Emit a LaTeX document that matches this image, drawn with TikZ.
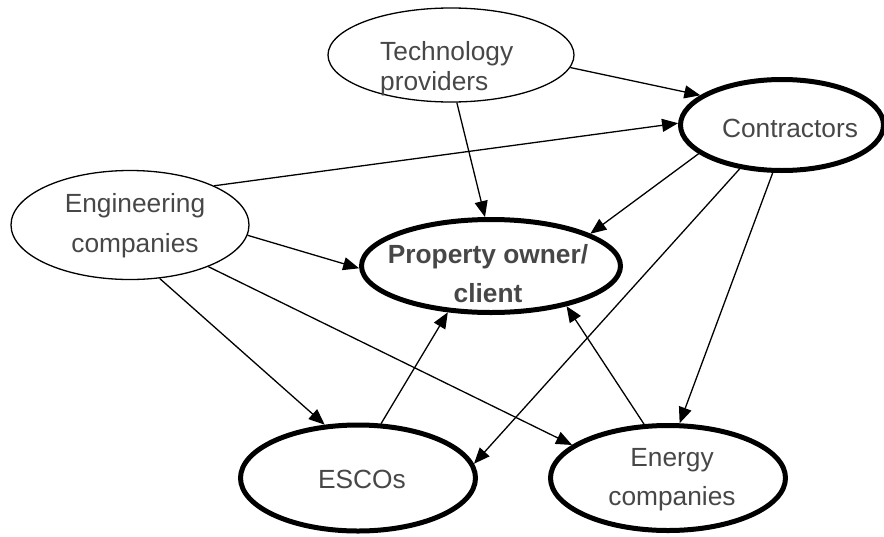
\documentclass[tikz,border=0pt]{standalone}
\usepackage{fontspec}
\setmainfont{Liberation Sans}
\usetikzlibrary{arrows.meta,shapes.geometric}
\begin{document}
\begin{tikzpicture}[x=1pt,y=-1pt,
  party/.style={draw, ellipse, inner sep=0pt, line width=1.3pt},
  keyparty/.style={party, line width=5pt},
  lbl/.style={text=black!72, font=\fontsize{26.3}{30}\selectfont, inner sep=0pt},
  boldlbl/.style={lbl, font=\fontsize{26.3}{30}\selectfont\bfseries},
  flow/.style={line width=1.3pt, -{Triangle[length=16pt,width=13pt]}}]
\useasboundingbox (0,0) rectangle (884,536);

% actors
\node[party,    minimum width=246, minimum height=94]  (tech)   at (451,55)  {};
\node[keyparty, minimum width=203, minimum height=91]  (con)    at (782,125) {};
\node[party,    minimum width=238, minimum height=109] (eng)    at (130,225) {};
\node[keyparty, minimum width=259, minimum height=93]  (prop)   at (491,266) {};
\node[keyparty, minimum width=235, minimum height=106] (escos)  at (358,478) {};
\node[keyparty, minimum width=235, minimum height=105] (energy) at (668,478) {};

% labels
\node[lbl, anchor=base west] (techA) at (380,60) {Technology};
\node[lbl, anchor=base west] (techB) at (380,90) {providers};
\node[lbl, anchor=base] (conA) at (790,137) {Contractors};
\node[lbl, anchor=base] (engA) at (135,212) {Engineering};
\node[lbl, anchor=base] (engB) at (135,252) {companies};
\node[boldlbl, anchor=base] (propA) at (488,263) {Property owner/};
\node[boldlbl, anchor=base] (propB) at (488,302) {client};
\node[lbl, anchor=base] (escosA) at (362,488) {ESCOs};
\node[lbl, anchor=base] (energyA) at (672,466) {Energy};
\node[lbl, anchor=base] (energyB) at (672,505) {companies};

% relations
\draw[flow] (tech.-6)   -- (con.160);
\draw[flow] (eng.25)    -- (con.179);
\draw[flow] (tech.-83)  -- (prop.97);
\draw[flow] (con.199)   -- (prop.18);
\draw[flow] (con.226)   -- (escos.7);
\draw[flow] (con.-101)  -- (energy.78);
\draw[flow] (eng.-5)    -- (prop.181);
\draw[flow] (eng.-61)   -- (escos.122);
\draw[flow] (eng.-28)   -- (energy.161);
\draw[flow] (escos.67)  -- (prop.-133);
\draw[flow] (energy.114) -- (prop.-28);
\end{tikzpicture}
\end{document}
